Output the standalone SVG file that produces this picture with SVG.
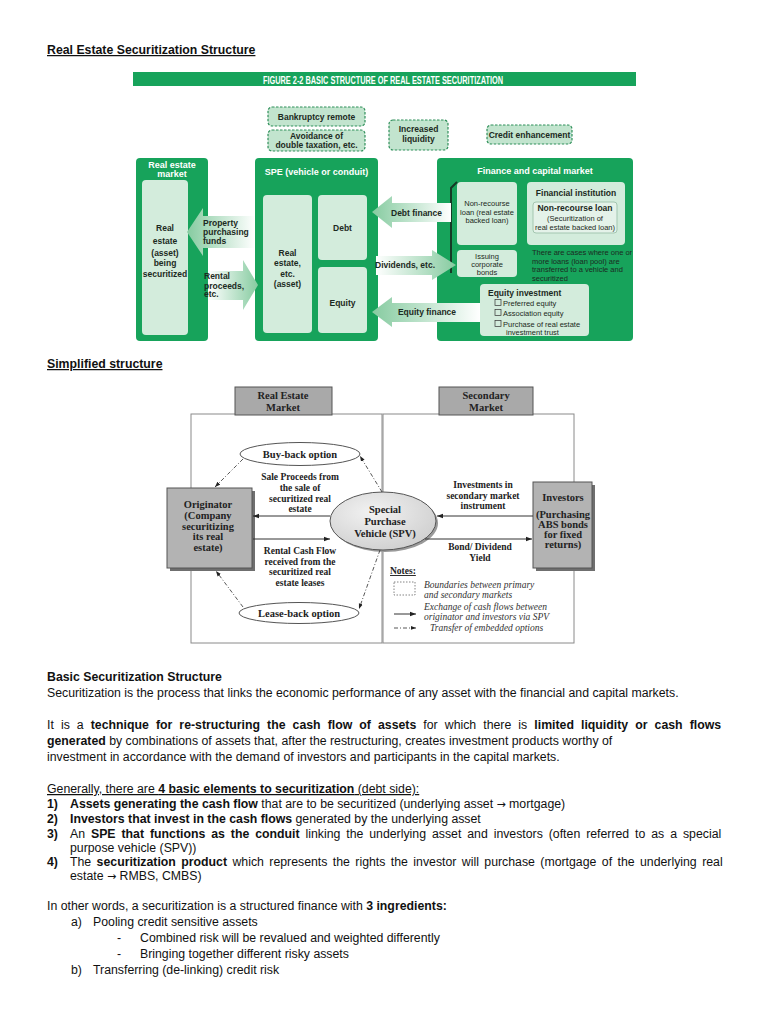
<svg xmlns="http://www.w3.org/2000/svg" width="768" height="1024" viewBox="0 0 768 1024">
<defs>
<style>
.pg{font-family:"Liberation Sans",Arial,sans-serif;font-size:12.3px;fill:#111}
.b{font-weight:bold}
.u{text-decoration:underline}
.ar{font-family:"DejaVu Sans",sans-serif;font-size:11px}
.gbox{fill:#17a35b}
.lbox{fill:#d3ecdc}
.dash{fill:#c2e4ce;stroke:#2f8f5a;stroke-width:1.2;stroke-dasharray:2.5,1.5}
.ft{font-family:"Liberation Sans",Arial,sans-serif;font-size:7.5px;fill:#1c2a22;text-anchor:middle}
.fb{font-family:"Liberation Sans",Arial,sans-serif;font-size:8.5px;font-weight:bold;fill:#1c2a22;text-anchor:middle}
.wt{font-family:"Liberation Sans",Arial,sans-serif;font-weight:bold;font-size:9px;fill:#fff;text-anchor:middle}
.sf{font-family:"Liberation Serif","Times New Roman",serif;font-weight:bold;font-size:9.5px;fill:#222;text-anchor:middle}
.sl{font-family:"Liberation Serif","Times New Roman",serif;font-weight:bold;font-size:10.5px;fill:#222;text-anchor:middle}
.it{font-family:"Liberation Serif","Times New Roman",serif;font-style:italic;font-size:9.5px;fill:#333}
.st{text-anchor:start}
.gray{fill:#a9a9a9;stroke:#555;stroke-width:1}
.bound{fill:none;stroke:#8a8a8a;stroke-width:1}
.ln{stroke:#333;stroke-width:1;fill:none}
.dd{stroke:#444;stroke-width:0.9;fill:none;stroke-dasharray:4,2,1,2}
</style>
<linearGradient id="gl" x1="0" y1="0" x2="1" y2="0"><stop offset="0" stop-color="#86cba0"/><stop offset="1" stop-color="#ffffff"/></linearGradient>
<linearGradient id="gr" x1="0" y1="0" x2="1" y2="0"><stop offset="0" stop-color="#ffffff"/><stop offset="1" stop-color="#86cba0"/></linearGradient>
<radialGradient id="eg" cx="0.4" cy="0.35" r="0.7"><stop offset="0" stop-color="#f2f2f2"/><stop offset="1" stop-color="#cfcfcf"/></radialGradient>
<marker id="ah" viewBox="0 0 8 8" refX="8" refY="4" markerWidth="6" markerHeight="6" orient="auto"><path d="M0,1 L8,4 L0,7 z" fill="#222"/></marker>
</defs>

<!-- Title -->
<text class="pg b u" x="47" y="54">Real Estate Securitization Structure</text>

<!-- Figure 2-2 -->
<g id="figure-header">
<rect class="gbox" x="133" y="72" width="503" height="14"/>
<text x="263" y="83.5" font-family="Liberation Sans,Arial,sans-serif" font-size="10.5" font-weight="bold" fill="#fff" textLength="240" lengthAdjust="spacingAndGlyphs">FIGURE 2-2  BASIC STRUCTURE OF REAL ESTATE SECURITIZATION</text>
</g>

<g id="bankruptcy-remote">
<rect class="dash" x="268" y="107" width="97" height="19" rx="4"/>
<text class="fb" x="316.5" y="119.5" font-size="8">Bankruptcy remote</text>
</g>
<g id="avoidance">
<rect class="dash" x="268" y="130" width="97" height="21" rx="4"/>
<text class="fb" x="316.5" y="139" font-size="8">Avoidance of</text>
<text class="fb" x="316.5" y="148" font-size="8">double taxation, etc.</text>
</g>
<g id="increased-liquidity">
<rect class="dash" x="389" y="120" width="59" height="30" rx="4"/>
<text class="fb" x="418.5" y="132" font-size="8">Increased</text>
<text class="fb" x="418.5" y="142" font-size="8">liquidity</text>
</g>
<g id="credit-enhancement">
<rect class="dash" x="487" y="125" width="85" height="19" rx="4"/>
<text class="fb" x="529.5" y="137.5" font-size="8">Credit enhancement</text>
</g>

<g id="real-estate-market">
<rect class="gbox" x="136" y="158" width="72" height="183" rx="4"/>
<text class="wt" x="172" y="168">Real estate</text>
<text class="wt" x="172" y="177">market</text>
<rect class="lbox" x="142" y="180" width="46" height="155" rx="4"/>
<text class="fb" x="165" y="231">Real</text>
<text class="fb" x="165" y="244">estate</text>
<text class="fb" x="165" y="256">(asset)</text>
<text class="fb" x="165" y="266">being</text>
<text class="fb" x="165" y="277">securitized</text>
</g>

<g id="spe">
<rect class="gbox" x="255" y="158" width="123" height="183" rx="4"/>
<text class="wt" x="316.5" y="175">SPE (vehicle or conduit)</text>
<rect class="lbox" x="263" y="195" width="49" height="138" rx="4"/>
<text class="fb" x="287.5" y="256">Real</text>
<text class="fb" x="287.5" y="266">estate,</text>
<text class="fb" x="287.5" y="277">etc.</text>
<text class="fb" x="287.5" y="287">(asset)</text>
<rect class="lbox" x="318" y="195" width="49" height="65" rx="4"/>
<text class="fb" x="342.5" y="231">Debt</text>
<rect class="lbox" x="318" y="267" width="49" height="66" rx="4"/>
<text class="fb" x="342.5" y="306">Equity</text>
</g>

<g id="finance-capital-market">
<rect class="gbox" x="437" y="158" width="196" height="183" rx="4"/>
<text class="wt" x="535" y="174">Finance and capital market</text>
<path d="M457,182 L451,188 L451,273" fill="none" stroke="#153a26" stroke-width="2"/>
<rect class="lbox" x="457" y="182" width="60" height="63" rx="4"/>
<text class="ft" x="487" y="206">Non-recourse</text>
<text class="ft" x="487" y="214.5">loan (real estate</text>
<text class="ft" x="487" y="223">backed loan)</text>
<rect class="lbox" x="457" y="250" width="60" height="27" rx="4"/>
<text class="ft" x="487" y="259">Issuing</text>
<text class="ft" x="487" y="267">corporate</text>
<text class="ft" x="487" y="275">bonds</text>
<rect class="lbox" x="527" y="182" width="98" height="63" rx="4"/>
<text class="fb" x="576" y="196">Financial institution</text>
<rect x="533" y="202" width="84" height="31" rx="3" fill="#e4f2e9" stroke="#a3c6b0" stroke-width="1"/>
<text class="fb" x="575" y="211" font-size="9">Non-recourse loan</text>
<text class="ft" x="575" y="221">(Securitization of</text>
<text class="ft" x="575" y="230">real estate backed loan)</text>
<text class="ft st" x="532" y="255" font-size="7.2">There are cases where one or</text>
<text class="ft st" x="532" y="263.5" font-size="7.2">more loans (loan pool) are</text>
<text class="ft st" x="532" y="272" font-size="7.2">transferred to a vehicle and</text>
<text class="ft st" x="532" y="280.5" font-size="7.2">securitized</text>
<rect class="lbox" x="480" y="284" width="109" height="52" rx="4"/>
<text class="fb st" x="488" y="296" font-size="9">Equity investment</text>
<g fill="none" stroke="#333" stroke-width="0.7">
<rect x="495" y="299.5" width="6" height="6"/>
<rect x="495" y="309.5" width="6" height="6"/>
<rect x="495" y="320.5" width="6" height="6"/>
</g>
<text class="ft st" x="503" y="306">Preferred equity</text>
<text class="ft st" x="503" y="316">Association equity</text>
<text class="ft st" x="503" y="327">Purchase of real estate</text>
<text class="ft st" x="506" y="335">investment trust</text>
</g>

<g id="flow-arrows">
<polygon points="187,232 203,208 203,216 255,216 255,248 203,248 203,256" fill="url(#gl)"/>
<text class="fb st" x="203" y="226">Property</text>
<text class="fb st" x="203" y="235">purchasing</text>
<text class="fb st" x="203" y="244">funds</text>
<polygon points="208,271 243,271 243,260 258,285 243,310 243,300 208,300" fill="url(#gr)"/>
<text class="fb st" x="204" y="279">Rental</text>
<text class="fb st" x="204" y="288.5">proceeds,</text>
<text class="fb st" x="204" y="297">etc.</text>
<polygon points="372,212 392,196 392,203 451,203 451,222 392,222 392,228" fill="url(#gl)"/>
<text class="fb st" x="391" y="216">Debt finance</text>
<polygon points="376,256 432,256 432,250 456,265 432,280 432,275 376,275" fill="url(#gr)"/>
<text class="fb st" x="375" y="268">Dividends, etc.</text>
<polygon points="372,312 392,297 392,303 480,303 480,322 392,322 392,327" fill="url(#gl)"/>
<text class="fb" x="427" y="315">Equity finance</text>
</g>

<!-- Simplified structure -->
<text class="pg b u" x="47" y="368">Simplified structure</text>

<g id="boundaries">
<rect class="bound" x="191" y="414" width="191" height="229"/>
<rect class="bound" x="383" y="414" width="191" height="229"/>
</g>
<g id="real-estate-market-label">
<rect class="gray" x="235" y="387" width="97" height="28"/>
<text class="sl" x="283" y="399">Real Estate</text>
<text class="sl" x="283" y="411">Market</text>
</g>
<g id="secondary-market-label">
<rect class="gray" x="439" y="387" width="94" height="28"/>
<text class="sl" x="486" y="399">Secondary</text>
<text class="sl" x="486" y="411">Market</text>
</g>

<g id="originator">
<rect x="170" y="491" width="85" height="80" fill="#6f6f6f"/>
<rect x="167" y="488" width="85" height="80" fill="#b3b3b3" stroke="#555" stroke-width="1"/>
<text class="sl" x="208" y="508">Originator</text>
<text class="sl" x="208" y="519">(Company</text>
<text class="sl" x="208" y="529.5">securitizing</text>
<text class="sl" x="208" y="540">its real</text>
<text class="sl" x="208" y="550.5">estate)</text>
</g>

<g id="investors">
<rect x="536" y="485" width="59" height="86" fill="#6f6f6f"/>
<rect x="533" y="482" width="59" height="86" fill="#b3b3b3" stroke="#555" stroke-width="1"/>
<text class="sl" x="563" y="501">Investors</text>
<text class="sl" x="563" y="518">(Purchasing</text>
<text class="sl" x="563" y="528">ABS bonds</text>
<text class="sl" x="563" y="538">for fixed</text>
<text class="sl" x="563" y="548">returns)</text>
</g>

<g id="spv">
<ellipse cx="385" cy="523" rx="53" ry="29" fill="#9a9a9a"/>
<ellipse cx="383" cy="521" rx="53" ry="29" fill="url(#eg)" stroke="#555" stroke-width="1"/>
<text class="sl" x="385" y="513" font-size="11">Special</text>
<text class="sl" x="385" y="525" font-size="11">Purchase</text>
<text class="sl" x="385" y="537" font-size="11">Vehicle (SPV)</text>
</g>

<g id="buy-back-option">
<ellipse cx="300" cy="454" rx="60" ry="11.5" fill="#fff" stroke="#555" stroke-width="1"/>
<text class="sl" x="300" y="458" font-size="11.5">Buy-back option</text>
</g>
<g id="lease-back-option">
<ellipse cx="299" cy="613" rx="60" ry="10.5" fill="#fff" stroke="#555" stroke-width="1"/>
<text class="sl" x="299" y="617" font-size="11.5">Lease-back option</text>
</g>

<g id="connectors">
<path class="dd" d="M243,459 L215,487" marker-end="url(#ah)"/>
<path class="dd" d="M382,492 L360,456" marker-end="url(#ah)"/>
<path class="dd" d="M243,607 L216,571" marker-end="url(#ah)"/>
<path class="dd" d="M380,550 L359,609" marker-end="url(#ah)"/>
<path class="ln" d="M330,516 L253,516" marker-end="url(#ah)"/>
<path class="ln" d="M253,539 L330,539" marker-end="url(#ah)"/>
<path class="ln" d="M533,516 L437,516" marker-end="url(#ah)"/>
<path class="ln" d="M425,539 L532,539" marker-end="url(#ah)"/>
</g>

<g id="flow-labels">
<text class="sf" x="300" y="480">Sale Proceeds from</text>
<text class="sf" x="300" y="491">the sale of</text>
<text class="sf" x="300" y="502">securitized real</text>
<text class="sf" x="300" y="512">estate</text>
<text class="sf" x="300" y="554">Rental Cash Flow</text>
<text class="sf" x="300" y="564.5">received from the</text>
<text class="sf" x="300" y="575">securitized real</text>
<text class="sf" x="300" y="585.5">estate leases</text>
<text class="sf" x="483" y="488">Investments in</text>
<text class="sf" x="483" y="498.5">secondary market</text>
<text class="sf" x="483" y="509">instrument</text>
<text class="sf" x="480" y="550">Bond/ Dividend</text>
<text class="sf" x="480" y="560.5">Yield</text>
</g>

<g id="notes">
<text class="sf st u" x="390" y="574" font-size="10">Notes:</text>
<rect x="394" y="582" width="21" height="13" fill="none" stroke="#666" stroke-width="0.8" stroke-dasharray="1.5,1.5"/>
<text class="it" x="424" y="588">Boundaries between primary</text>
<text class="it" x="424" y="598">and secondary markets</text>
<path class="ln" d="M394,614 L416,614" marker-end="url(#ah)"/>
<text class="it" x="424" y="610">Exchange of cash flows between</text>
<text class="it" x="424" y="620">originator and investors via SPV</text>
<path class="dd" d="M394,628 L416,628" marker-end="url(#ah)"/>
<text class="it" x="430" y="631">Transfer of embedded options</text>
</g>

<!-- Text section -->
<g id="text-section" class="pg">
<text class="b" x="47" y="681">Basic Securitization Structure</text>
<text x="47" y="697">Securitization is the process that links the economic performance of any asset with the financial and capital markets.</text>
<text x="47" y="729" word-spacing="3.65">It is a <tspan class="b">technique for re-structuring the cash flow of assets</tspan> for which there is <tspan class="b">limited liquidity or cash flows</tspan></text>
<text x="47" y="745"><tspan class="b">generated</tspan> by combinations of assets that, after the restructuring, creates investment products worthy of</text>
<text x="47" y="761">investment in accordance with the demand of investors and participants in the capital markets.</text>
<text x="47" y="793" class="u">Generally, there are <tspan class="b">4 basic elements to securitization</tspan> (debt side):</text>
<text x="47" y="808" class="b">1)</text>
<text x="70" y="808"><tspan class="b">Assets generating the cash flow</tspan> that are to be securitized (underlying asset <tspan class="ar">→</tspan> mortgage)</text>
<text x="47" y="823" class="b">2)</text>
<text x="70" y="823"><tspan class="b">Investors that invest in the cash flows</tspan> generated by the underlying asset</text>
<text x="47" y="838" class="b">3)</text>
<text x="70" y="838" word-spacing="2.5">An <tspan class="b">SPE that functions as the conduit</tspan> linking the underlying asset and investors (often referred to as a special</text>
<text x="70" y="852">purpose vehicle (SPV))</text>
<text x="47" y="866" class="b">4)</text>
<text x="70" y="866" word-spacing="2">The <tspan class="b">securitization product</tspan> which represents the rights the investor will purchase (mortgage of the underlying real</text>
<text x="70" y="880">estate <tspan class="ar">→</tspan> RMBS, CMBS)</text>
<text x="47" y="910">In other words, a securitization is a structured finance with <tspan class="b">3 ingredients:</tspan></text>
<text x="71" y="926">a)</text>
<text x="93" y="926">Pooling credit sensitive assets</text>
<text x="117" y="942">-</text>
<text x="140" y="942">Combined risk will be revalued and weighted differently</text>
<text x="117" y="958">-</text>
<text x="140" y="958">Bringing together different risky assets</text>
<text x="71" y="974">b)</text>
<text x="93" y="974">Transferring (de-linking) credit risk</text>
</g>
</svg>
